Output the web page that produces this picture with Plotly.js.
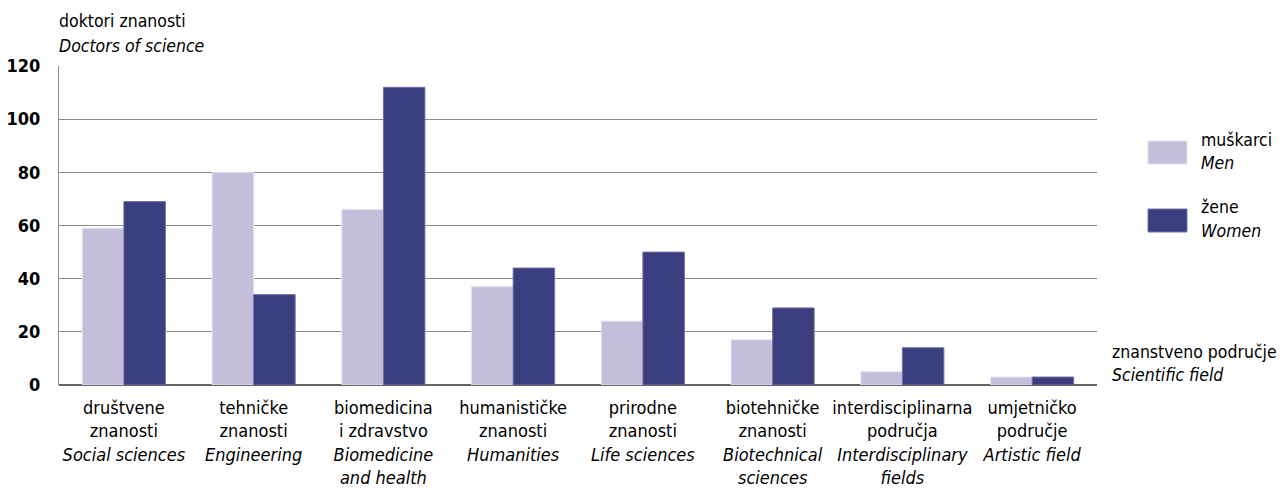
<!DOCTYPE html>
<html><head><meta charset="utf-8">
<script src="https://cdn.plot.ly/plotly-3.0.1.min.js"></script>
<style>html,body{margin:0;padding:0;background:#fff}#chart{width:1283px;height:488px}</style>
</head><body><div id="chart"></div>
<script>
const categoriesHr = ["društvene<br>znanosti","tehničke<br>znanosti","biomedicina<br>i zdravstvo","humanističke<br>znanosti","prirodne<br>znanosti","biotehničke<br>znanosti","interdisciplinarna<br>područja","umjetničko<br>područje"];
const categoriesEn = ["Social sciences","Engineering","Biomedicine<br>and health","Humanities","Life sciences","Biotechnical<br>sciences","Interdisciplinary<br>fields","Artistic field"];
const men = [59, 80, 66, 37, 24, 17, 5, 3];
const women = [69, 34, 112, 44, 50, 29, 14, 3];
const yTicks = [0, 20, 40, 60, 80, 100, 120];

const FONT = "'DejaVu Sans Condensed', 'Liberation Sans', Arial, sans-serif";
const labels = categoriesHr.map((c, i) => c + "<br><i>" + categoriesEn[i] + "</i>");
const xIdx = labels.map((_, i) => i);

const traces = [
  {type: "bar", x: xIdx, y: men, name: "muškarci", marker: {color: "#c5bedb", line: {color: "#e4e0ef", width: 1}}, hoverinfo: "y"},
  {type: "bar", x: xIdx, y: women, name: "žene", marker: {color: "#3a3e7e", line: {color: "#6f72a3", width: 1}}, hoverinfo: "y"}
];

const px = (x) => (x - 59) / 1038;
const py = (y) => (385 - y) / 319;
const ann = (x, y, text) => ({xref: "paper", yref: "paper", x: px(x), y: py(y), xanchor: "left", yanchor: "middle", showarrow: false, align: "left", text: text, font: {size: 17.5, family: FONT, color: "#000"}});

const layout = {
  width: 1283, height: 488,
  margin: {l: 59, r: 186, t: 66, b: 103},
  paper_bgcolor: "#fff", plot_bgcolor: "#fff",
  barmode: "group", bargap: 0.36, bargroupgap: 0,
  showlegend: false,
  font: {family: FONT, color: "#000", size: 18},
  xaxis: {
    tickmode: "array", tickvals: xIdx, ticktext: labels,
    range: [-0.5, 7.5], showgrid: false, zeroline: false, showline: false,
    ticks: "", ticklabelstandoff: 10, tickfont: {size: 18, family: FONT, color: "#000"}, fixedrange: true
  },
  yaxis: {
    range: [0, 120], tickmode: "array", tickvals: yTicks,
    showgrid: true, gridcolor: "#8a8a8a", gridwidth: 1,
    zeroline: true, zerolinecolor: "#666", zerolinewidth: 2,
    showline: true, linecolor: "#8a8a8a", linewidth: 1,
    ticks: "", ticklabelstandoff: 14,
    tickfont: {size: 18, family: FONT, color: "#000", weight: "bold"}, fixedrange: true
  },
  shapes: [
    {type: "rect", xref: "paper", yref: "paper", x0: px(1148), x1: px(1187), y0: py(164), y1: py(141), fillcolor: "#c5bedb", line: {color: "#e4e0ef", width: 1}},
    {type: "rect", xref: "paper", yref: "paper", x0: px(1148), x1: px(1187), y0: py(232), y1: py(209), fillcolor: "#3a3e7e", line: {color: "#6f72a3", width: 1}}
  ],
  annotations: [
    ann(57, 21, "doktori znanosti"),
    ann(57, 46, "<i>Doctors of science</i>"),
    ann(1199, 140, "muškarci"),
    ann(1199, 163, "<i>Men</i>"),
    ann(1199, 207, "žene"),
    ann(1199, 231, "<i>Women</i>"),
    ann(1110, 352, "znanstveno područje"),
    ann(1110, 375, "<i>Scientific field</i>")
  ]
};

Plotly.newPlot("chart", traces, layout, {displayModeBar: false, staticPlot: true});
</script></body></html>
